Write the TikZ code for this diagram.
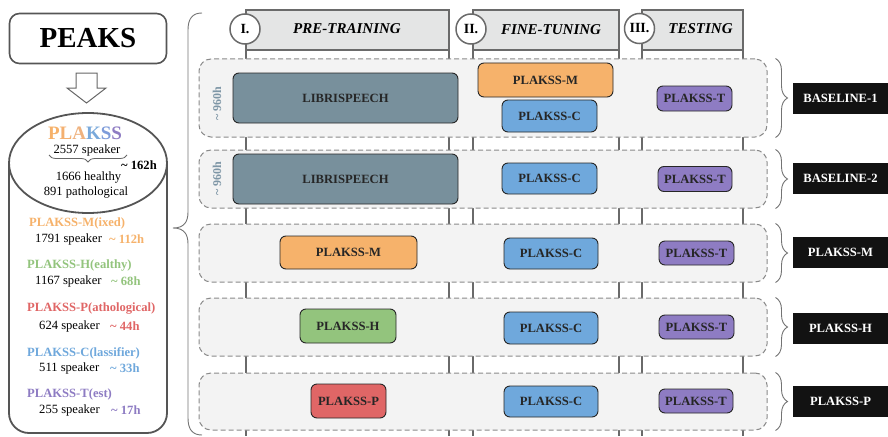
\documentclass[tikz,border=0pt]{standalone}
\usepackage{fontspec}
\setmainfont{Liberation Serif}
\usetikzlibrary{decorations.pathreplacing}

\definecolor{edge}{HTML}{555555}
\definecolor{tabline}{HTML}{6A6A6A}
\definecolor{tabfill}{HTML}{E4E5E5}
\definecolor{rowfill}{HTML}{F3F3F3}
\definecolor{rowline}{HTML}{8A8A8A}
\definecolor{cOrange}{HTML}{F6B26B}
\definecolor{cGreen}{HTML}{93C47D}
\definecolor{cRed}{HTML}{E06666}
\definecolor{cBlue}{HTML}{6FA8DC}
\definecolor{cPurple}{HTML}{8E7CC3}
\definecolor{cSlate}{HTML}{78909C}
\definecolor{hoursc}{HTML}{7E96A6}
\definecolor{pkA}{HTML}{F6B26B}
\definecolor{pkB}{HTML}{F4B070}
\definecolor{pkC}{HTML}{EFB27E}
\definecolor{pkD}{HTML}{79A9DB}
\definecolor{pkE}{HTML}{7E9CDA}
\definecolor{pkF}{HTML}{8E7CC3}

\newcommand{\fsz}[1]{\fontsize{#1}{#1}\selectfont}

\tikzset{
  txt/.style={inner sep=0pt, font=\fsz{12.6}},
  btxt/.style={inner sep=0pt, font=\fsz{12.6}\bfseries},
  dsbox/.style={draw=black!85, line width=0.9pt, rounded corners=6pt, inner sep=0pt,
                font=\fsz{12.6}\bfseries, text=black!85},
  tagbox/.style={fill=black!93, text=white, inner sep=0pt, minimum width=95pt,
                 minimum height=31pt, font=\fsz{12.6}\bfseries},
  rowbox/.style={draw=rowline, fill=rowfill, line width=1pt, dash pattern=on 5pt off 3pt,
                 rounded corners=12pt, minimum width=568pt, inner sep=0pt},
  tabbox/.style={draw=tabline, fill=tabfill, line width=1.5pt},
  stepnum/.style={circle, draw=tabline, fill=white, line width=1.5pt, minimum size=30pt,
                  inner sep=0pt, font=\fsz{14}\bfseries},
  phase/.style={inner sep=0pt, font=\fsz{15}\bfseries\itshape},
  rbrace/.style={draw=black!55, line width=0.9pt, decorate,
                 decoration={brace, amplitude=12pt}},
  hours/.style={inner sep=0pt, rotate=90, text=hoursc, font=\fsz{12}\bfseries}
}

\begin{document}
\begin{tikzpicture}[x=1pt, y=-1pt]
\useasboundingbox (0,0) rectangle (888,436);

% ---------------- left panel: PEAKS and the PLAKSS subsets ----------------
\node[draw=edge, line width=1.6pt, rounded corners=10pt, minimum width=157pt,
      minimum height=50pt, inner sep=0pt, font=\fsz{29}\bfseries] (peaks) at (88,38.5) {PEAKS};

% hollow arrow
\draw[draw=black!60, fill=white, line width=1pt]
  (76,73) -- (97,73) -- (97,88) -- (106,88) -- (86.5,103) -- (67,88) -- (76,88) -- cycle;

% cylinder
\draw[draw=edge, line width=1.8pt, fill=white, rounded corners=20pt]
  (9,163) -- (9,433) -- (167,433) -- (167,163);
\draw[draw=edge, line width=1.8pt, fill=white] (88,163) ellipse[x radius=79pt, y radius=50pt];

\node[inner sep=0pt, font=\fsz{19}\bfseries] (plakss) at (85,133)
  {\textcolor{pkA}{P}\textcolor{pkB}{L}\textcolor{pkC}{A}\textcolor{pkD}{K}\textcolor{pkE}{S}\textcolor{pkF}{S}};
\node[txt] (spk) at (87,150.5) {2557 speaker};
\draw[draw=black!60, line width=0.8pt, decorate, decoration={brace, amplitude=7pt}]
  (127,155) -- (49,155);
\node[btxt] (tot) at (139,165) {\textasciitilde\ 162h};
\node[txt] (hl) at (88.5,177) {1666 healthy};
\node[txt] (pt) at (86,192) {891 pathological};

\node[btxt, anchor=west, text=cOrange] (sm) at (29,223) {PLAKSS-M(ixed)};
\node[txt, anchor=west] (smn) at (35,239) {1791 speaker};
\node[btxt, anchor=west, text=cOrange] (smh) at (109,239) {\textasciitilde\ 112h};

\node[btxt, anchor=west, text=cGreen] (sh) at (27,265) {PLAKSS-H(ealthy)};
\node[txt, anchor=west] (shn) at (35,281) {1167 speaker};
\node[btxt, anchor=west, text=cGreen] (shh) at (111,281) {\textasciitilde\ 68h};

\node[btxt, anchor=west, text=cRed] (sp) at (27,309) {PLAKSS-P(athological)};
\node[txt, anchor=west] (spn) at (39,326) {624 speaker};
\node[btxt, anchor=west, text=cRed] (sph) at (110,326) {\textasciitilde\ 44h};

\node[btxt, anchor=west, text=cBlue] (sc) at (27,353) {PLAKSS-C(lassifier)};
\node[txt, anchor=west] (scn) at (39,368) {511 speaker};
\node[btxt, anchor=west, text=cBlue] (sch) at (110,368) {\textasciitilde\ 33h};

\node[btxt, anchor=west, text=cPurple] (st) at (27,394) {PLAKSS-T(est)};
\node[txt, anchor=west] (stn) at (39,410) {255 speaker};
\node[btxt, anchor=west, text=cPurple] (sth) at (111,410) {\textasciitilde\ 17h};

% large brace joining the dataset to the experiment grid
\draw[draw=black!55, line width=0.9pt]
  (202,13) .. controls (193,13) and (188,18) .. (188,30) -- (188,212)
  .. controls (188,222) and (184,228) .. (173,228)
  .. controls (184,228) and (188,234) .. (188,244) -- (188,418)
  .. controls (188,430) and (193,435) .. (202,435);

% ---------------- phase columns ----------------
\foreach \xx in {246,449,473,619,642,743}
  \draw[tabline, line width=1.5pt] (\xx,50) -- (\xx,436);
\draw[tabbox] (246,10) rectangle (449,50);
\draw[tabbox] (473,10) rectangle (619,50);
\draw[tabbox] (642,10) rectangle (743,50);
\node[stepnum] (n1) at (245,29) {I.};
\node[stepnum] (n2) at (471,29) {II.};
\node[stepnum] (n3) at (639.5,28.5) {III.};
\node[phase] (ph1) at (347,29) {PRE-TRAINING};
\node[phase] (ph2) at (551,30) {FINE-TUNING};
\node[phase] (ph3) at (700.5,28.5) {TESTING};

% ---------------- experiment rows ----------------
\node[rowbox, minimum height=78pt] (r1) at (483,98) {};
\node[rowbox, minimum height=58pt] (r2) at (483,179) {};
\node[rowbox, minimum height=58pt] (r3) at (483,253) {};
\node[rowbox, minimum height=58pt] (r4) at (483,327) {};
\node[rowbox, minimum height=57pt] (r5) at (483,401.5) {};

\node[hours] (h1) at (217,104) {\textasciitilde\ 960h};
\node[hours] (h2) at (217,179) {\textasciitilde\ 960h};

% row 1
\node[dsbox, fill=cSlate, minimum width=225pt, minimum height=50pt] (lib1) at (345.5,98) {LIBRISPEECH};
\node[dsbox, fill=cOrange, minimum width=135pt, minimum height=34pt] (m1) at (545.5,80) {PLAKSS-M};
\node[dsbox, fill=cBlue, minimum width=95pt, minimum height=32pt] (c1) at (549.5,116) {PLAKSS-C};
\node[dsbox, fill=cPurple, minimum width=75pt, minimum height=25pt] (t1) at (694.5,98.5) {PLAKSS-T};
% row 2
\node[dsbox, fill=cSlate, minimum width=225pt, minimum height=50pt] (lib2) at (345.5,179) {LIBRISPEECH};
\node[dsbox, fill=cBlue, minimum width=95pt, minimum height=31pt] (c2) at (549.5,178.5) {PLAKSS-C};
\node[dsbox, fill=cPurple, minimum width=74pt, minimum height=25pt] (t2) at (695,179) {PLAKSS-T};
% row 3
\node[dsbox, fill=cOrange, minimum width=137pt, minimum height=33pt] (m3) at (348.5,252.5) {PLAKSS-M};
\node[dsbox, fill=cBlue, minimum width=94pt, minimum height=31pt] (c3) at (551,253.5) {PLAKSS-C};
\node[dsbox, fill=cPurple, minimum width=75pt, minimum height=24pt] (t3) at (696.5,253) {PLAKSS-T};
% row 4
\node[dsbox, fill=cGreen, minimum width=96pt, minimum height=34pt] (h4) at (348,326) {PLAKSS-H};
\node[dsbox, fill=cBlue, minimum width=94pt, minimum height=32pt] (c4) at (551,328) {PLAKSS-C};
\node[dsbox, fill=cPurple, minimum width=75pt, minimum height=24pt] (t4) at (696.5,327) {PLAKSS-T};
% row 5
\node[dsbox, fill=cRed, minimum width=75pt, minimum height=34pt] (p5) at (348.5,401) {PLAKSS-P};
\node[dsbox, fill=cBlue, minimum width=94pt, minimum height=31pt] (c5) at (551,401.5) {PLAKSS-C};
\node[dsbox, fill=cPurple, minimum width=74pt, minimum height=24pt] (t5) at (696,401) {PLAKSS-T};

% ---------------- experiment names ----------------
\node[tagbox] (g1) at (840.5,98.5) {BASELINE-1};
\node[tagbox] (g2) at (840.5,178) {BASELINE-2};
\node[tagbox] (g3) at (840.5,252.5) {PLAKSS-M};
\node[tagbox] (g4) at (840.5,328) {PLAKSS-H};
\node[tagbox] (g5) at (840.5,401.5) {PLAKSS-P};

\foreach \r in {r1,r2,r3,r4,r5}
  \draw[rbrace] ([xshift=8pt]\r.north east) -- ([xshift=8pt]\r.south east);

\end{tikzpicture}
\end{document}
